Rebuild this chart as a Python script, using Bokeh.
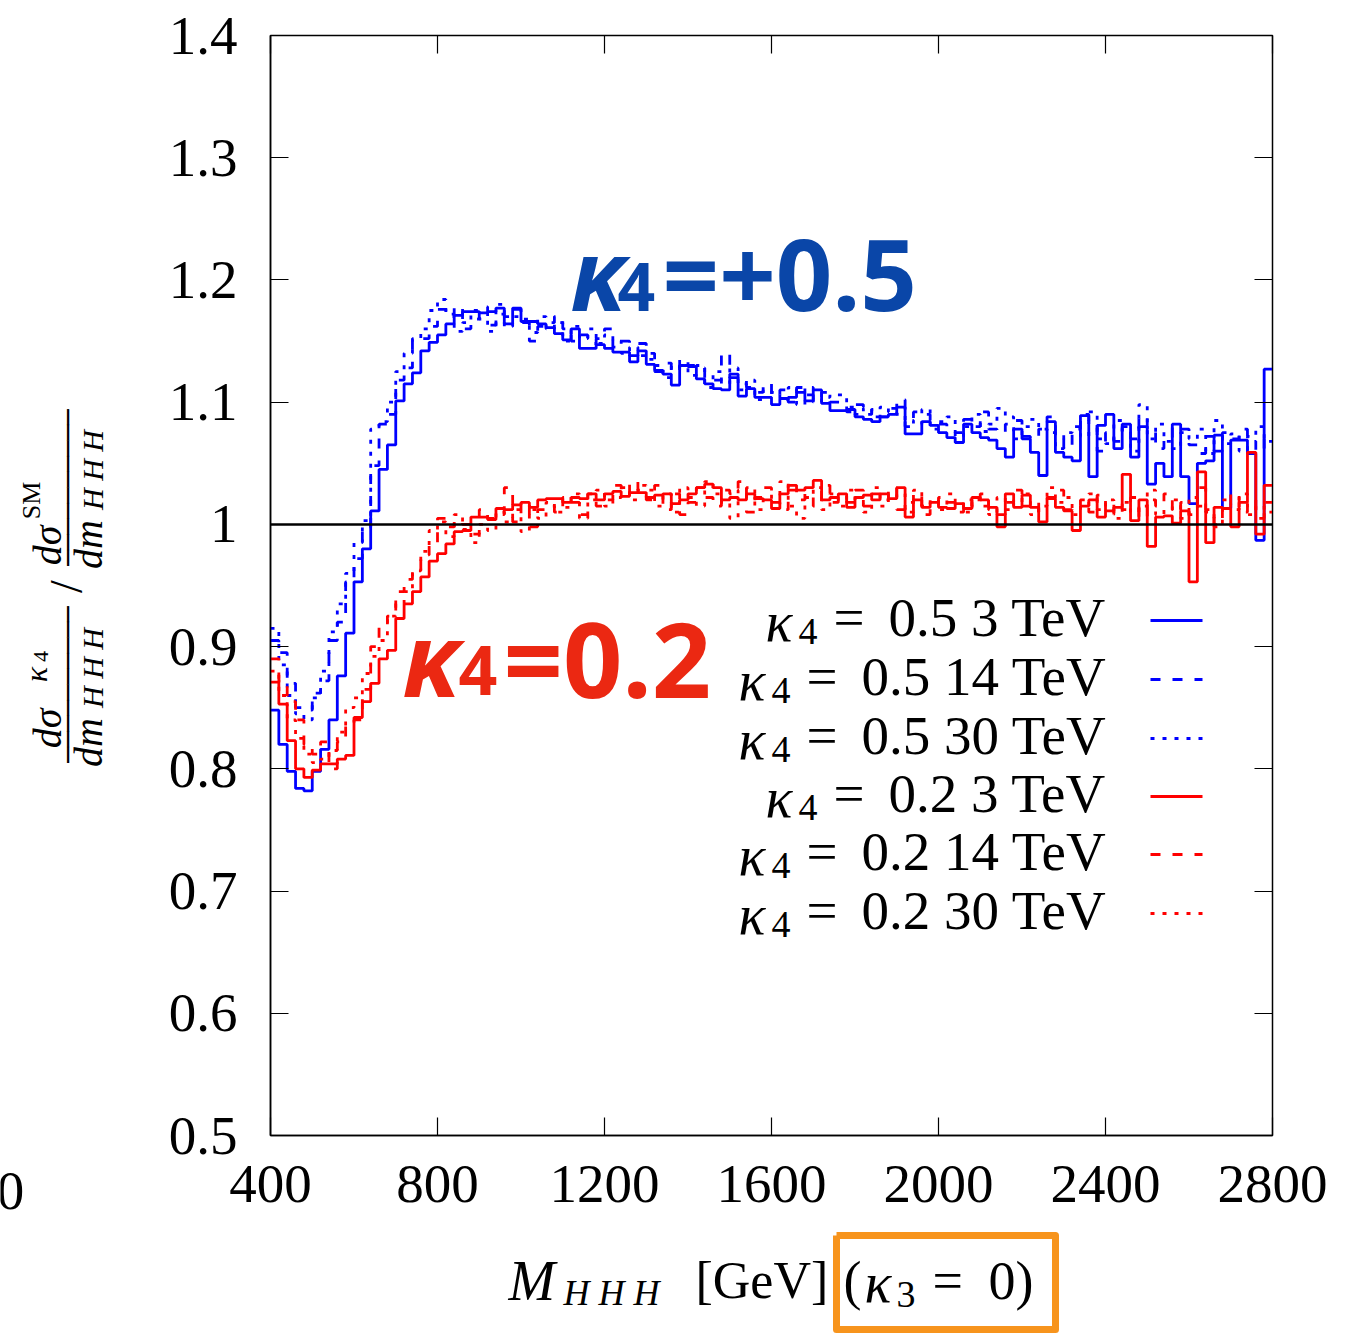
import math
from bokeh.plotting import figure
from bokeh.layouts import row, column
from bokeh.models import (Label, LinearAxis, FixedTicker, CustomJSTickFormatter,
                          Range1d, Span)
from bokeh.embed import file_html
from bokeh.resources import INLINE

# ---------------- data ----------------
BIN_LO = 400
BIN_W = 20
x_ticks = [400, 800, 1200, 1600, 2000, 2400, 2800]
y_ticks = [0.5, 0.6, 0.7, 0.8, 0.9, 1.0, 1.1, 1.2, 1.3, 1.4]

# kappa4 = 0.5, 3 TeV
b3 = [0.848, 0.820, 0.798, 0.784, 0.782, 0.798, 0.816, 0.840, 0.876, 0.911,
      0.953, 0.980, 1.011, 1.045, 1.065, 1.101, 1.115, 1.124, 1.142, 1.149,
      1.155,
      1.164, 1.171, 1.174, 1.174, 1.173, 1.174, 1.177, 1.164, 1.177, 1.166,
      1.166, 1.164, 1.161, 1.156, 1.151, 1.160, 1.144, 1.144, 1.147, 1.144,
      1.141, 1.141,
      1.133, 1.142, 1.131, 1.126, 1.123, 1.114, 1.130, 1.129, 1.119, 1.115,
      1.111, 1.110, 1.123, 1.105, 1.111, 1.104, 1.104, 1.098, 1.103, 1.104,
      1.108, 1.101, 1.110, 1.099, 1.093,
      1.093, 1.094, 1.088, 1.086, 1.084, 1.088, 1.090, 1.096, 1.074, 1.074,
      1.084, 1.081, 1.075, 1.071, 1.067, 1.082, 1.075, 1.071, 1.069, 1.062,
      1.055, 1.078, 1.070, 1.059, 1.040,
      1.084,
      1.059, 1.055, 1.052, 1.089, 1.039, 1.081, 1.090, 1.062, 1.082, 1.055,
      1.080, 1.033, 1.050, 1.039, 1.082, 1.039, 1.017, 1.050, 1.052, 1.073,
      1.013, 1.069, 1.069, 1.058, 0.987, 1.127]

# kappa4 = 0.5, 14 TeV
b14 = [0.905, 0.895, 0.870, 0.850, 0.848, 0.862, 0.872, 0.905, 0.920, 0.953,
       0.972, 0.998, 1.048, 1.082, 1.090, 1.118, 1.128, 1.150, 1.152, 1.162,
       1.176,
       1.170, 1.178, 1.160, 1.168, 1.178, 1.163, 1.172, 1.170, 1.176, 1.165,
       1.150, 1.162, 1.165, 1.170, 1.160, 1.150, 1.155, 1.148, 1.152, 1.160,
       1.145, 1.150,
       1.138, 1.148, 1.140, 1.125, 1.132, 1.125, 1.135, 1.130, 1.128, 1.120,
       1.118, 1.140, 1.120, 1.115, 1.112, 1.108, 1.115, 1.105, 1.110, 1.100,
       1.112, 1.106, 1.102, 1.108, 1.100,
       1.100, 1.092, 1.098, 1.090, 1.094, 1.088, 1.095, 1.102, 1.080, 1.092,
       1.090, 1.085, 1.082, 1.078, 1.075, 1.086, 1.080, 1.092, 1.078, 1.075,
       1.082, 1.085, 1.072, 1.070, 1.078, 1.088,
       1.070, 1.062, 1.078, 1.090, 1.085, 1.060, 1.075, 1.068, 1.080, 1.070,
       1.088, 1.078, 1.062, 1.070, 1.080, 1.078, 1.065, 1.058, 1.072, 1.060,
       1.075, 1.070, 1.078, 1.068, 1.060, 1.072]

# kappa4 = 0.5, 30 TeV
b30 = [0.915, 0.885, 0.860, 0.845, 0.840, 0.858, 0.880, 0.912, 0.935, 0.960,
       0.985, 1.003, 1.078, 1.084, 1.100, 1.125, 1.140, 1.152, 1.160, 1.175,
       1.184,
       1.172, 1.158, 1.165, 1.175, 1.168, 1.158, 1.180, 1.162, 1.170, 1.168,
       1.157, 1.170, 1.160, 1.165, 1.150, 1.162, 1.152, 1.160, 1.148, 1.155,
       1.150, 1.140,
       1.145, 1.138, 1.135, 1.130, 1.120, 1.130, 1.128, 1.122, 1.130, 1.112,
       1.125, 1.115, 1.128, 1.110, 1.118, 1.102, 1.110, 1.108, 1.102, 1.112,
       1.098, 1.112, 1.100, 1.104, 1.106,
       1.106, 1.096, 1.090, 1.095, 1.088, 1.096, 1.092, 1.090, 1.085, 1.082,
       1.094, 1.078, 1.084, 1.088, 1.072, 1.080, 1.090, 1.076, 1.082, 1.095,
       1.088, 1.070, 1.080, 1.086, 1.078, 1.075,
       1.062, 1.075, 1.080, 1.072, 1.092, 1.070, 1.066, 1.085, 1.076, 1.060,
       1.098, 1.070, 1.082, 1.068, 1.062, 1.075, 1.070, 1.078, 1.058, 1.085,
       1.066, 1.074, 1.060, 1.072, 1.080, 1.068]

# kappa4 = 0.2, 3 TeV
r3 = [0.871, 0.853, 0.823, 0.800, 0.793, 0.799, 0.804, 0.804, 0.808, 0.811,
      0.842, 0.855, 0.870, 0.890, 0.897, 0.923, 0.935, 0.945, 0.957, 0.970,
      0.976,
      0.984, 0.994, 0.995, 1.006, 1.006, 1.004, 1.013, 1.012, 1.016, 1.018,
      1.014, 1.020, 1.021, 1.021, 1.018, 1.022, 1.021, 1.025, 1.020, 1.025,
      1.027, 1.023,
      1.026, 1.026, 1.022, 1.024, 1.025, 1.017, 1.020, 1.025, 1.030, 1.033,
      1.030, 1.020, 1.022, 1.020, 1.025, 1.021, 1.020, 1.013, 1.025, 1.032,
      1.028, 1.030, 1.036, 1.020, 1.022,
      1.025, 1.014, 1.022, 1.024, 1.020, 1.025, 1.021, 1.030, 1.006, 1.020,
      1.014, 1.018, 1.014, 1.013, 1.017, 1.013, 1.022, 1.020, 1.014, 0.998,
      1.025, 1.014, 1.024, 1.014, 1.002,
      1.021,
      1.014, 1.011, 0.995, 1.015, 1.020, 1.006, 1.011, 1.014, 1.041, 1.003,
      1.020, 0.982, 1.006, 1.007, 1.001, 1.011, 0.953, 1.043, 0.985, 1.014,
      1.013, 0.998, 1.018, 1.059, 0.992, 1.032]

# kappa4 = 0.2, 14 TeV
r14 = [0.890, 0.872, 0.855, 0.840, 0.820, 0.812, 0.822, 0.800, 0.822, 0.838,
       0.840, 0.865, 0.900, 0.918, 0.925, 0.945, 0.955, 0.960, 0.975, 0.985,
       1.005,
       0.998, 1.003, 1.000, 0.992, 1.012, 1.005, 1.008, 1.030, 1.002, 1.018,
       0.998, 1.012, 1.015, 1.010, 1.022, 1.018, 1.008, 1.025, 1.015, 1.020,
       1.032, 1.025,
       1.035, 1.028, 1.020, 1.032, 1.012, 1.025, 1.008, 1.018, 1.030, 1.022,
       1.015, 1.028, 1.025, 1.035, 1.010, 1.022, 1.030, 1.018, 1.012, 1.028,
       1.020, 1.025, 1.015, 1.032, 1.018,
       1.022, 1.018, 1.028, 1.015, 1.025, 1.020, 1.030, 1.012, 1.018, 1.025,
       1.008, 1.015, 1.022, 1.018, 1.010, 1.020, 1.015, 1.025, 1.012, 1.008,
       1.018, 1.028, 1.015, 1.010, 1.020, 1.022,
       1.028, 1.012, 1.015, 1.020, 1.010, 1.024, 1.008, 1.018, 1.012, 1.022,
       1.005, 1.020, 1.015, 1.025, 1.010, 1.018, 1.008, 1.030, 1.012, 1.000,
       1.015, 1.025, 1.010, 1.020, 1.005, 1.018]

# kappa4 = 0.2, 30 TeV
r30 = [0.880, 0.860, 0.840, 0.825, 0.812, 0.805, 0.808, 0.815, 0.830, 0.850,
       0.858, 0.878, 0.892, 0.905, 0.925, 0.935, 0.945, 0.962, 0.978, 0.995,
       1.002,
       0.990, 1.008, 0.996, 0.985, 1.000, 0.995, 1.010, 1.002, 1.012, 0.994,
       1.012, 1.005, 1.018, 1.010, 1.014, 1.025, 1.005, 1.020, 1.028, 1.015,
       1.022, 1.030,
       1.020, 1.032, 1.028, 1.015, 1.025, 1.010, 1.030, 1.022, 1.015, 1.035,
       1.025, 1.018, 1.005, 1.028, 1.030, 1.012, 1.020, 1.025, 1.035, 1.015,
       1.005, 1.022, 1.030, 1.012, 1.025,
       1.015, 1.028, 1.020, 1.010, 1.030, 1.015, 1.022, 1.025, 1.010, 1.028,
       1.015, 1.020, 1.012, 1.025, 1.018, 1.010, 1.020, 1.015, 1.008, 1.022,
       1.012, 1.018, 1.025, 1.008, 1.015, 1.030,
       1.018, 1.022, 1.008, 1.015, 1.025, 1.012, 1.020, 1.005, 1.018, 1.010,
       1.015, 1.028, 1.008, 1.012, 1.020, 1.005, 1.022, 1.015, 1.010, 0.998,
       1.020, 1.012, 1.025, 1.008, 1.015, 1.010]

series = [
    ("0.5", "3", b3, "#0000FF", "solid"),
    ("0.5", "14", b14, "#0000FF", "dashed"),
    ("0.5", "30", b30, "#0000FF", "dotted"),
    ("0.2", "3", r3, "#FF0000", "solid"),
    ("0.2", "14", r14, "#FF0000", "dashed"),
    ("0.2", "30", r30, "#FF0000", "dotted"),
]
DASH = {"solid": "solid", "dashed": "10 12", "dotted": "4 8"}

# ---------------- layout (canvas pixels) ----------------
W, H = 1353, 1334
YW = 120            # width of left strip holding the y title
TOPH = 1230         # height of main figure
FL, FR, FT, FB = 270, 1272, 35, 1135   # frame edges in canvas pixels
XMIN, XMAX, YMIN, YMAX = 400, 2800, 0.5, 1.4
SERIF = "Liberation Serif"
TXT = "black"


def X(px):
    return XMIN + (px - FL) * (XMAX - XMIN) / (FR - FL)


def Y(py):
    return YMIN + (FB - py) * (YMAX - YMIN) / (FB - FT)


p = figure(width=W - YW, height=TOPH, x_range=Range1d(XMIN, XMAX),
           y_range=Range1d(YMIN, YMAX), output_backend="svg", toolbar_location=None,
           min_border_left=FL - YW, min_border_right=W - FR,
           min_border_top=FT, min_border_bottom=TOPH - FB)
p.grid.visible = False
p.outline_line_color = "black"
p.outline_line_width = 1.5
p.background_fill_color = "white"
p.border_fill_color = "white"

for ax in (p.xaxis[0], p.yaxis[0]):
    ax.axis_line_color = "black"
    ax.axis_line_width = 1.5
    ax.major_tick_in = 18
    ax.major_tick_out = 0
    ax.major_tick_line_color = "black"
    ax.major_tick_line_width = 1.2
    ax.minor_tick_line_color = None
    ax.major_label_text_font = SERIF
    ax.major_label_text_font_size = "55px"
    ax.major_label_text_color = TXT

p.xaxis[0].ticker = FixedTicker(ticks=x_ticks)
p.yaxis[0].ticker = FixedTicker(ticks=y_ticks)
p.xaxis[0].major_label_standoff = 30
p.yaxis[0].major_label_standoff = 33
p.yaxis[0].formatter = CustomJSTickFormatter(code="return String(Number(tick.toFixed(1)));")

blank = CustomJSTickFormatter(code="return '';")
top = LinearAxis(ticker=FixedTicker(ticks=x_ticks), major_tick_in=18, major_tick_out=0,
                 minor_tick_line_color=None, formatter=blank, major_label_standoff=0,
                 axis_line_color="black", major_tick_line_width=1.2)
right = LinearAxis(ticker=FixedTicker(ticks=y_ticks), major_tick_in=18, major_tick_out=0,
                   minor_tick_line_color=None, formatter=blank, major_label_standoff=0,
                   axis_line_color="black", major_tick_line_width=1.2)
p.add_layout(top, "above")
p.add_layout(right, "right")

p.add_layout(Span(location=1.0, dimension="width", line_color="black", line_width=2.5))

edges = [BIN_LO + BIN_W * i for i in range(len(b3) + 1)]
for k4, e, vals, col, sty in series:
    yv = list(vals) + [vals[-1]]
    p.step(edges, yv, mode="after", line_color=col, line_width=2.8,
           line_dash=DASH[sty])


def lab(fig, x, y, text, size, style="normal", font=SERIF, color=TXT, align="left",
        angle=0.0):
    fig.add_layout(Label(x=x, y=y, text=text, text_font=font, text_font_style=style,
                         text_font_size=size, text_color=color, text_align=align,
                         text_baseline="middle", angle=angle))


# ---------------- legend (text then sample, gnuplot style) ----------------
row_y = [617, 676, 735, 793, 851, 910]
kx = {"3": 765, "14": 738, "30": 738}
for i, (k4, e, vals, col, sty) in enumerate(series):
    yy = row_y[i]
    x0 = kx[e]
    lab(p, X(x0), Y(yy + 4), "κ", "56px", "italic")
    lab(p, X(x0 + 33), Y(yy + 14), "4", "38px")
    lab(p, X(x0 + 68), Y(yy), "=", "55px")
    lab(p, X(x0 + 123), Y(yy), f"{k4} {e} TeV", "55px")
    p.segment(x0=[X(1150)], y0=[Y(yy + 3)], x1=[X(1202)], y1=[Y(yy + 3)], line_color=col,
              line_width=2.8, line_dash=DASH[sty])

# ---------------- big annotations ----------------
BLUE = "#0A46A8"
RED = "#EB2812"
SANS = "Noto Sans"
lab(p, X(570), Y(272), "κ", "98px", "bold italic", SANS, BLUE)
lab(p, X(617), Y(286), "4", "66px", "bold", SANS, BLUE)
lab(p, X(662), Y(272), "=+0.5", "99px", "bold", SANS, BLUE)

lab(p, X(402), Y(657), "κ", "102px", "bold italic", SANS, RED)
lab(p, X(458), Y(670), "4", "68px", "bold", SANS, RED)
lab(p, X(503), Y(657), "=0.2", "104px", "bold", SANS, RED)

# ---------------- left strip: y title + stray tick label ----------------
yfig = figure(width=YW, height=H, x_range=Range1d(0, YW), y_range=Range1d(0, H),
              output_backend="svg", toolbar_location=None, min_border=0,
              x_axis_type=None, y_axis_type=None)
yfig.grid.visible = False
yfig.outline_line_color = None


def yl(px, py, txt, size, style="normal", font=SERIF):
    lab(yfig, px, H - py, txt, size, style, font, align="center", angle=math.pi / 2)


lab(yfig, 10, H - 1190, "0", "55px", align="center")
# lower fraction: dσ^κ4 / dm_HHH
yl(47, 728, "dσ", "40px", "italic")
yl(35, 674, "κ", "32px", "italic")
yl(40, 656, "4", "22px")
yl(67, 684, "──────────", "26px", font="DejaVu Sans Mono")
yl(88, 742, "dm", "40px", "italic")
yl(92, 660, "H  H  H", "30px", "italic")
yl(66, 586, "/", "46px")
# upper fraction: dσ^SM / dm_HHH
yl(47, 545, "dσ", "40px", "italic")
yl(31, 500, "SM", "26px")
yl(67, 487, "──────────", "26px", font="DejaVu Sans Mono")
yl(88, 544, "dm", "40px", "italic")
yl(92, 462, "H  H  H", "30px", "italic")

# ---------------- bottom strip: x title ----------------
XH = H - TOPH
xfig = figure(width=W - YW, height=XH, x_range=Range1d(FL, FR), y_range=Range1d(0, XH),
              output_backend="svg", toolbar_location=None,
              min_border_left=FL - YW, min_border_right=W - FR,
              min_border_top=0, min_border_bottom=0,
              x_axis_type=None, y_axis_type=None)
xfig.grid.visible = False
xfig.outline_line_color = None


def xl(px, py, txt, size, style="normal"):
    lab(xfig, px, H - py, txt, size, style)


xl(508, 1280, "M", "56px", "italic")
xl(563, 1292, "H H H", "36px", "italic")
xl(695, 1280, "[GeV]", "52px")
xl(843, 1280, "(", "54px")
xl(864, 1282, "κ", "56px", "italic")
xl(896, 1294, "3", "38px")
xl(932, 1280, "=", "54px")
xl(988, 1280, "0)", "54px")
# hand-drawn style orange box around (kappa3 = 0)
BOX_X = [836, 1055, 1055, 836, 836]
BOX_Y = [1235, 1235, 1329, 1329, 1235]
xfig.line(x=BOX_X, y=[H - v for v in BOX_Y], line_color="#F7941D", line_width=7,
          line_join="round")

layout = row(yfig, column(p, xfig))
open("out.html", "w").write(file_html(layout, INLINE))
